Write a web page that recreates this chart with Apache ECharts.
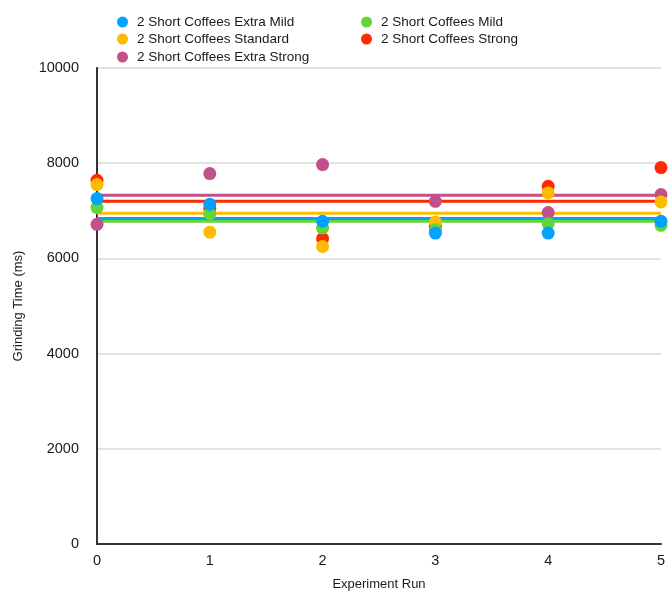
<!DOCTYPE html>
<html>
<head>
<meta charset="utf-8">
<script src="https://cdn.jsdelivr.net/npm/echarts@6/dist/echarts.min.js"></script>
<style>
  html, body { margin: 0; padding: 0; background: #fff; }
  #chart { width: 668px; height: 597px; }
</style>
</head>
<body>
<div id="chart"></div>
<script>
// Experiment runs on the x axis
const runs = [0, 1, 2, 3, 4, 5];

// Grinding time (ms) per strength setting
const extraMild   = [7256, 7137, 6779, 6533, 6533, 6779];
const mild        = [7067, 6940, 6638, 6604, 6730, 6695];
const standard    = [7551, 6550, 6250, 6765, 7375, 7186];
const strong      = [7642, 7046, 6414, 6673, 7516, 7909];
const extraStrong = [6716, 7782, 7972, 7200, 6962, 7340];

const seriesNames = [
  '2 Short Coffees Extra Mild',
  '2 Short Coffees Mild',
  '2 Short Coffees Standard',
  '2 Short Coffees Strong',
  '2 Short Coffees Extra Strong'
];
const seriesValues = [extraMild, mild, standard, strong, extraStrong];
const colors = ['#04A2FF', '#62D537', '#FEBB00', '#FF2A00', '#C2508A'];

const font = 'Liberation Sans, Arial, Helvetica, sans-serif';

function mean(arr) {
  return arr.reduce((a, b) => a + b, 0) / arr.length;
}

// Scatter points plus a flat average line for each setting.
// Drawn from the last setting to the first so the milder ones sit on top.
const series = [];
for (let i = seriesNames.length - 1; i >= 0; i--) {
  const vals = seriesValues[i];
  const avg = mean(vals);
  series.push({
    name: seriesNames[i],
    type: 'line',
    data: [[runs[0], avg], [runs[runs.length - 1], avg]],
    symbol: 'none',
    lineStyle: { color: colors[i], width: 3 },
    itemStyle: { color: colors[i] },
    z: 1,
    silent: true
  });
}
for (let i = seriesNames.length - 1; i >= 0; i--) {
  series.push({
    name: seriesNames[i],
    type: 'scatter',
    data: runs.map((r, k) => [r, seriesValues[i][k]]),
    symbol: 'circle',
    symbolSize: 13,
    itemStyle: { color: colors[i], opacity: 1 },
    z: 3
  });
}

// One legend entry per position, two columns
const legendPos = [
  { left: 117, top: 15 },
  { left: 361, top: 15 },
  { left: 117, top: 32 },
  { left: 361, top: 32 },
  { left: 117, top: 50 }
];
const legends = seriesNames.map((n, i) => ({
  data: [{ name: n, icon: 'circle', itemStyle: { color: colors[i] } }],
  left: legendPos[i].left,
  top: legendPos[i].top,
  itemWidth: 11,
  itemHeight: 11,
  padding: 0,
  selectedMode: false,
  textStyle: { fontFamily: font, fontSize: 13.5, color: '#1a1a1a', padding: [0, 0, 0, 4] }
}));

const chart = echarts.init(document.getElementById('chart'), null, { renderer: 'canvas' });
chart.setOption({
  animation: false,
  backgroundColor: '#ffffff',
  legend: legends,
  grid: { left: 97, right: 5, top: 68, bottom: 53, containLabel: false },
  xAxis: {
    type: 'value',
    min: 0,
    max: 5,
    interval: 1,
    name: 'Experiment Run',
    nameLocation: 'middle',
    nameGap: 34,
    nameTextStyle: { fontFamily: font, fontSize: 13, color: '#1a1a1a' },
    axisLine: { show: true, onZero: false, lineStyle: { color: '#333333', width: 2 } },
    axisTick: { show: false },
    splitLine: { show: false },
    axisLabel: { fontFamily: font, fontSize: 14.5, color: '#1a1a1a', margin: 9 }
  },
  yAxis: {
    type: 'value',
    min: 0,
    max: 10000,
    interval: 2000,
    name: 'Grinding Time (ms)',
    nameLocation: 'middle',
    nameGap: 72,
    nameTextStyle: { fontFamily: font, fontSize: 13, color: '#1a1a1a' },
    axisLine: { show: true, lineStyle: { color: '#333333', width: 2 } },
    axisTick: { show: false },
    splitLine: { show: true, lineStyle: { color: '#d9d9d9', width: 1.5 } },
    axisLabel: {
      fontFamily: font, fontSize: 14.5, color: '#1a1a1a', margin: 18,
      formatter: (v) => String(v)
    }
  },
  series: series
});
</script>
</body>
</html>
